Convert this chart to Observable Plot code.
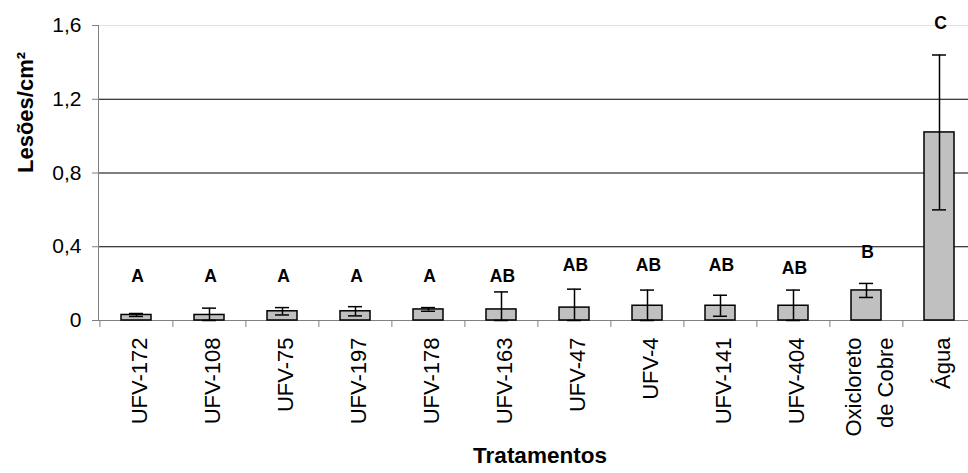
<!DOCTYPE html>
<html><head><meta charset="utf-8">
<script src="https://cdn.jsdelivr.net/npm/d3@7"></script>
<script src="https://cdn.jsdelivr.net/npm/@observablehq/plot@0.6"></script>
<style>body{margin:0;background:#fff}</style>
</head><body><div id="chart"></div>
<script>
const categories = ["UFV-172","UFV-108","UFV-75","UFV-197","UFV-178","UFV-163","UFV-47","UFV-4","UFV-141","UFV-404","Oxicloreto\nde Cobre","Água"];
const means  = [0.03, 0.03, 0.05, 0.05, 0.06, 0.06, 0.07, 0.08, 0.08, 0.08, 0.163, 1.02];
const errors = [0.008, 0.037, 0.02, 0.025, 0.01, 0.095, 0.10, 0.085, 0.057, 0.085, 0.038, 0.42];
const letters = ["A","A","A","A","A","AB","AB","AB","AB","AB","B","C"];
const letterY = [0.24, 0.24, 0.24, 0.24, 0.24, 0.24, 0.30, 0.30, 0.30, 0.28, 0.367, 1.613];
const yTicks = [0, 0.4, 0.8, 1.2, 1.6];
const yTitle = "Lesões/cm²";
const xTitle = "Tratamentos";

const data = categories.map((c, i) => ({
  cat: c, mean: means[i],
  lo: Math.max(0, means[i] - errors[i]), hi: means[i] + errors[i],
  letter: letters[i], ly: letterY[i]
}));
const font = '"Liberation Sans", Arial, sans-serif';
const x0 = 98, x1 = 977;
const step = (x1 - x0) / categories.length;
const fmt = d => d === 0 ? "0" : d.toFixed(1).replace(".", ",");

const chart = Plot.plot({
  width: 968, height: 473,
  marginLeft: 98, marginRight: 0, marginTop: 25, marginBottom: 153,
  style: {fontFamily: font, background: "#fff", color: "#000", overflow: "hidden"},
  x: {domain: categories, range: [x0, x1], paddingInner: 0.59, paddingOuter: 0.295, axis: null},
  y: {domain: [0, 1.6], axis: null},
  marks: [
    Plot.ruleY([1.6], {stroke: "#e2e2e2"}),
    Plot.ruleY([0.4, 0.8, 1.2], {stroke: "#000"}),
    Plot.frame({anchor: "left", stroke: "#808080"}),
    Plot.frame({anchor: "bottom", stroke: "#808080"}),
    Plot.axisY({ticks: yTicks, tickSize: 6, tickPadding: 11, stroke: "#808080", fill: "#000",
      fontSize: 21, tickFormat: fmt, label: null, anchor: "left"}),
    Plot.axisX({ticks: categories, tickSize: 7, dx: -step / 2, tickFormat: () => "",
      stroke: "#808080", label: null, anchor: "bottom"}),
    Plot.barY(data, {x: "cat", y: "mean", fill: "#c0c0c0", stroke: "#000", strokeWidth: 1.5}),
    Plot.ruleX(data, {x: "cat", y1: "lo", y2: "hi", stroke: "#000", strokeWidth: 1.5}),
    Plot.tickY(data, {x: "cat", y: "hi", stroke: "#000", strokeWidth: 1.5, insetLeft: 8, insetRight: 8}),
    Plot.tickY(data, {x: "cat", y: "lo", stroke: "#000", strokeWidth: 1.5, insetLeft: 8, insetRight: 8}),
    Plot.text(data, {x: "cat", y: "ly", text: "letter", fontWeight: "bold", fontSize: 17.5, dx: 1, fill: "#000"}),
    Plot.text(data, {x: "cat", y: 0, dy: 17, text: "cat", rotate: -90, textAnchor: "end",
      lineAnchor: "middle", lineHeight: 1.45, fontSize: 22, fill: "#000"}),
    Plot.text([yTitle], {frameAnchor: "left", dx: -73, rotate: -90, fontWeight: "bold", fontSize: 22, fill: "#000"}),
    Plot.text([xTitle], {frameAnchor: "bottom", dx: 6.5, dy: 142, fontWeight: "bold", fontSize: 22.5, fill: "#000"})
  ]
});
document.getElementById("chart").append(chart);
</script>
</body></html>
